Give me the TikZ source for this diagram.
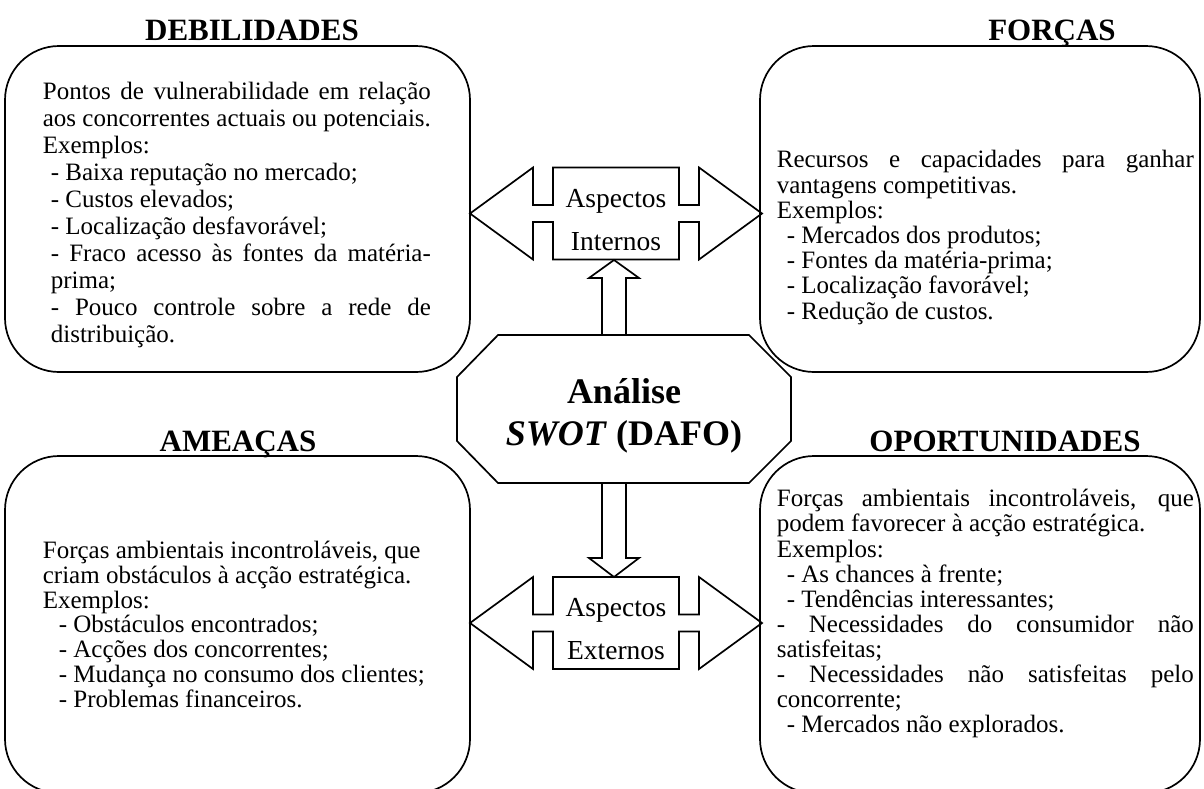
\documentclass[tikz,border=0pt]{standalone}
\usepackage{fontspec}
\setmainfont{Liberation Serif}
\begin{document}
\begin{tikzpicture}[x=1pt,y=-1pt,line width=1.7pt,line join=miter,
  box/.style={draw,rounded corners=54pt},
  ttl/.style={font=\fontsize{31}{36}\selectfont\bfseries,anchor=base,inner sep=0pt},
  body/.style={anchor=north west,align=left,inner sep=0pt},
  lbl/.style={font=\fontsize{27.5}{43}\selectfont,align=center,inner sep=0pt},
  shp/.style={draw,line width=1.7pt}]
\useasboundingbox (0,0) rectangle (1204,788);
\clip (0,0) rectangle (1204,788);
\newcommand\dblarrow[1]{%
\draw[shp] (470,#1) -- (533,#1-46) -- (533,#1-8.5) -- (553,#1-8.5) -- (553,#1-46)
 -- (679,#1-46) -- (679,#1-8.5) -- (699,#1-8.5) -- (699,#1-46) -- (762,#1)
 -- (699,#1+46) -- (699,#1+8.5) -- (679,#1+8.5) -- (679,#1+46) -- (553,#1+46)
 -- (553,#1+8.5) -- (533,#1+8.5) -- (533,#1+46) -- cycle;}
% quadrant boxes
\draw[box] (5,46) rectangle (470,372);
\draw[box] (760,46) rectangle (1200,372);
\draw[box] (5,456) rectangle (470,793);
\draw[box] (760,456) rectangle (1200,793);
% titles
\node[ttl] (tdeb) at (252,40) {DEBILIDADES};
\node[ttl] (tfor) at (1052,40) {FORÇAS};
\node[ttl] (tame) at (238,451) {AMEAÇAS};
\node[ttl] (topo) at (1005,451) {OPORTUNIDADES};
% central octagon
\draw[shp] (498,335) -- (749,335) -- (791,377) -- (791,441) -- (749,483)
  -- (498,483) -- (457,441) -- (457,377) -- cycle;
\node[font=\fontsize{36}{42}\selectfont\bfseries,align=center,inner sep=0pt] (swot) at (624,416)
  {Análise\\\textit{SWOT} (DAFO)};
% double arrows
\dblarrow{213.5}
\dblarrow{623}
\node[lbl] (int) at (616,220) {Aspectos\\Internos};
\node[lbl] (ext) at (616,629) {Aspectos\\Externos};
% vertical arrows
\draw[shp] (602,335) -- (602,278) -- (589,278) -- (614,260) -- (639,278) -- (626,278) -- (626,335);
\draw[shp] (602,483) -- (602,558) -- (589,558) -- (614,577) -- (639,558) -- (626,558) -- (626,483);
% texts
\node[body,font=\fontsize{25}{27}\selectfont] (xdeb) at (42,80) {\rule{0pt}{19pt}\makebox[388pt][s]{Pontos de vulnerabilidade em relação}\\
aos concorrentes actuais ou potenciais.\\
Exemplos:\\
\hspace*{8pt}- Baixa reputação no mercado;\\
\hspace*{8pt}- Custos elevados;\\
\hspace*{8pt}- Localização desfavorável;\\
\hspace*{8pt}\makebox[380pt][s]{- Fraco acesso às fontes da matéria-}\\
\hspace*{8pt}prima;\\
\hspace*{8pt}\makebox[380pt][s]{- Pouco controle sobre a rede de}\\
\hspace*{8pt}distribuição.};
\node[body,font=\fontsize{25}{25.2}\selectfont] (xfor) at (776,148) {\rule{0pt}{19pt}\makebox[417pt][s]{Recursos e capacidades para ganhar}\\
vantagens competitivas.\\
Exemplos:\\
\hspace*{10pt}- Mercados dos produtos;\\
\hspace*{10pt}- Fontes da matéria-prima;\\
\hspace*{10pt}- Localização favorável;\\
\hspace*{10pt}- Redução de custos.};
\node[body,font=\fontsize{25}{24.7}\selectfont] (xame) at (42,539) {\rule{0pt}{19pt}Forças ambientais incontroláveis, que\\
criam obstáculos à acção estratégica.\\
Exemplos:\\
\hspace*{16pt}- Obstáculos encontrados;\\
\hspace*{16pt}- Acções dos concorrentes;\\
\hspace*{16pt}- Mudança no consumo dos clientes;\\
\hspace*{16pt}- Problemas financeiros.};
\node[body,font=\fontsize{25}{25.1}\selectfont] (xopo) at (776,487) {\rule{0pt}{19pt}\makebox[417pt][s]{Forças ambientais incontroláveis, que}\\
podem favorecer à acção estratégica.\\
Exemplos:\\
\hspace*{10pt}- As chances à frente;\\
\hspace*{10pt}- Tendências interessantes;\\
\makebox[417pt][s]{- Necessidades do consumidor não}\\
satisfeitas;\\
\makebox[417pt][s]{- Necessidades não satisfeitas pelo}\\
concorrente;\\
\hspace*{10pt}- Mercados não explorados.};
\end{tikzpicture}
\end{document}
